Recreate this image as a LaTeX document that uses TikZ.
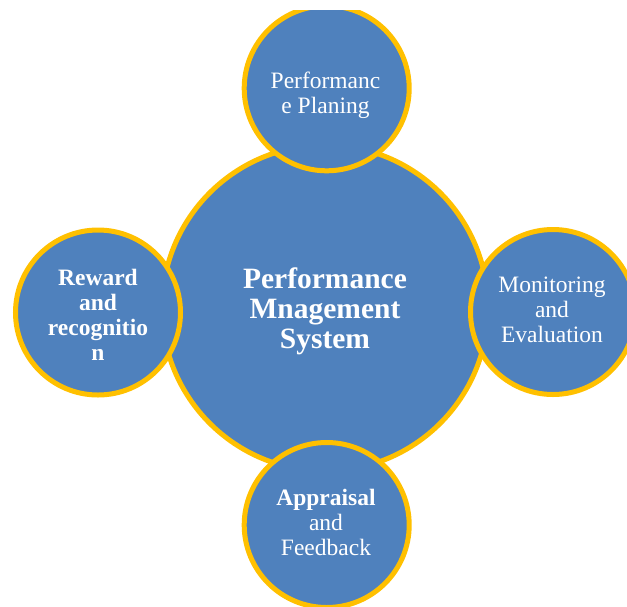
\documentclass[tikz,border=0pt]{standalone}
\usepackage{fontspec}
\setmainfont{Liberation Serif}
\begin{document}
\begin{tikzpicture}[x=1pt,y=-1pt,
  disc/.style={circle, draw=ringyellow, fill=discblue, line width=5pt, inner sep=0pt},
  hub/.style={disc, minimum size=326pt},
  petal/.style={disc, minimum size=165pt},
  hubtext/.style={text=white, align=center, inner sep=0pt, font=\fontsize{29.5}{30}\selectfont\bfseries},
  petaltext/.style={text=white, align=center, inner sep=0pt, font=\fontsize{23.5}{25}\selectfont}]
\definecolor{discblue}{HTML}{4F81BD}
\definecolor{ringyellow}{HTML}{FFC000}
\useasboundingbox (0,0) rectangle (627,606);

\begin{scope}
  \clip (0,10) rectangle (627,606);
  % central system circle, then the four surrounding stages on top of it
  \node[hub]   (hub)    at (325,308)    {};
  \node[petal] (plan)   at (326.7,88.3) {};
  \node[petal] (monit)  at (553,312)    {};
  \node[petal] (apprs)  at (326.7,525)  {};
  \node[petal] (reward) at (98,312.5)   {};
\end{scope}

\node[hubtext]   (hubt)    at (325,311)    {Performance\\Mnagement\\System};
\node[petaltext] (plant)   at (325.5,95)   {Performanc\\e Planing};
\node[petaltext] (monitt)  at (552,310)    {Monitoring\\and\\Evaluation};
\node[petaltext] (apprst)  at (326,522)    {\textbf{Appraisal}\\and\\Feedback};
\node[petaltext, font=\fontsize{23.5}{25}\selectfont\bfseries]
                 (rewardt) at (98,314.5)   {Reward\\and\\recognitio\\n};
\end{tikzpicture}
\end{document}
